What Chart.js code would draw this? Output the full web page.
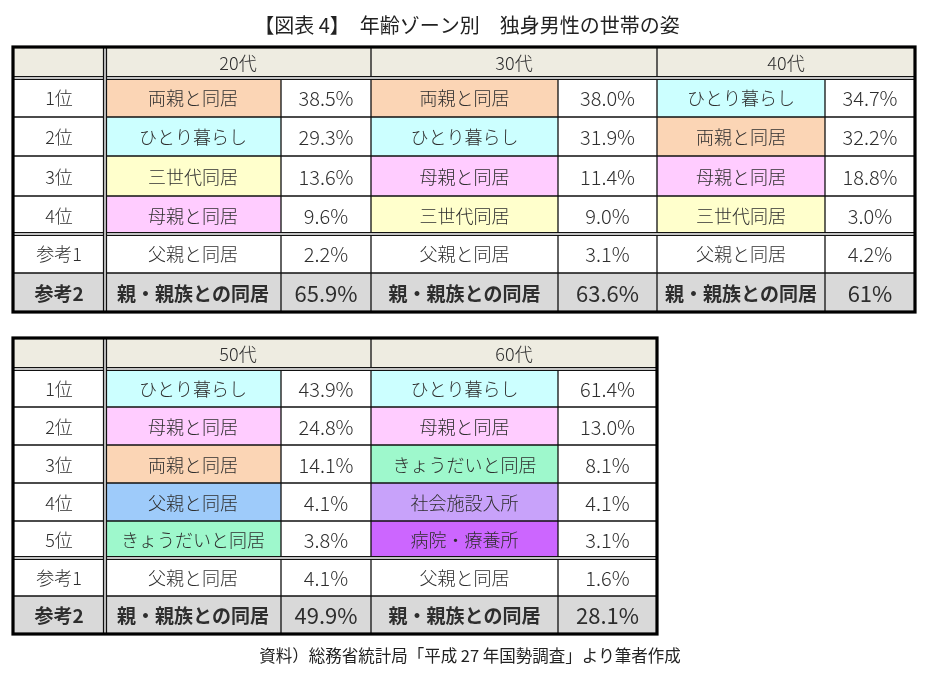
<!DOCTYPE html>
<html>
<head>
<meta charset="utf-8">
<script src="https://cdn.jsdelivr.net/npm/chart.js@4/dist/chart.umd.min.js"></script>
<style>
body{margin:0;background:#fff}
#wrap{width:928px;height:673px}
</style>
</head>
<body>
<div id="wrap"><canvas id="myChart" width="928" height="673"></canvas></div>
<script>
const TITLE = '【図表 4】　年齢ゾーン別　独身男性の世帯の姿'
const SOURCE = '資料）総務省統計局「平成 27 年国勢調査」より筆者作成'

// table 1 : 20s - 40s
const ages1 = ['20代', '30代', '40代']
const ranks1 = ['1位', '2位', '3位', '4位', '参考1', '参考2']
const items20 = ['両親と同居', 'ひとり暮らし', '三世代同居', '母親と同居', '父親と同居', '親・親族との同居']
const pct20 = ['38.5', '29.3', '13.6', '9.6', '2.2', '65.9']
const items30 = ['両親と同居', 'ひとり暮らし', '母親と同居', '三世代同居', '父親と同居', '親・親族との同居']
const pct30 = ['38.0', '31.9', '11.4', '9.0', '3.1', '63.6']
const items40 = ['ひとり暮らし', '両親と同居', '母親と同居', '三世代同居', '父親と同居', '親・親族との同居']
const pct40 = ['34.7', '32.2', '18.8', '3.0', '4.2', '61']

// table 2 : 50s - 60s
const ages2 = ['50代', '60代']
const ranks2 = ['1位', '2位', '3位', '4位', '5位', '参考1', '参考2']
const items50 = ['ひとり暮らし', '母親と同居', '両親と同居', '父親と同居', 'きょうだいと同居', '父親と同居', '親・親族との同居']
const pct50 = ['43.9', '24.8', '14.1', '4.1', '3.8', '4.1', '49.9']
const items60 = ['ひとり暮らし', '母親と同居', 'きょうだいと同居', '社会施設入所', '病院・療養所', '父親と同居', '親・親族との同居']
const pct60 = ['61.4', '13.0', '8.1', '4.1', '3.1', '1.6', '28.1']

// styles
const itemColors = {
  '両親と同居': '#fbd5b5',
  'ひとり暮らし': '#ccffff',
  '三世代同居': '#ffffcc',
  '母親と同居': '#ffccff',
  '父親と同居': '#9ecbfa',
  'きょうだいと同居': '#9ef8cc',
  '社会施設入所': '#c8a2fa',
  '病院・療養所': '#cc66ff'
}
const HEAD_BG = '#eeece1'
const REF2_BG = '#d9d9d9'
const TEXT_COLOR = '#2e2e2e'
const FONT = '"Noto Sans CJK JP", "Noto Sans", sans-serif'

// layout (grid edges in scale units)
const layout1 = {cols: [13, 105, 281, 371, 558, 657, 825, 915], rows: [47, 78, 117, 156, 196, 234, 273, 312]}
const layout2 = {cols: [13, 105, 281, 371, 558, 657], rows: [338, 369, 407, 445, 483, 521, 558, 596, 634]}

const table1 = {ages: ages1, ranks: ranks1, items: [items20, items30, items40], pcts: [pct20, pct30, pct40], ranked: 4, lay: layout1}
const table2 = {ages: ages2, ranks: ranks2, items: [items50, items60], pcts: [pct50, pct60], ranked: 5, lay: layout2}


function drawTable(chart, t){
  var ctx = chart.ctx
  var sx = chart.scales.x, sy = chart.scales.y
  var X = t.lay.cols.map(function(v){return sx.getPixelForValue(v)})
  var Y = t.lay.rows.map(function(v){return sy.getPixelForValue(v)})
  var nRows = t.ranks.length
  var nGroups = t.ages.length
  var left = X[0], right = X[X.length - 1], top = Y[0], bottom = Y[Y.length - 1]

  // backgrounds
  ctx.fillStyle = HEAD_BG
  ctx.fillRect(left, top, right - left, Y[1] - top)
  for(var i = 0;i < nRows;i++){
    var y0 = Y[i + 1], y1 = Y[i + 2]
    var isRef2 = i === t.ranked + 1
    ctx.fillStyle = isRef2 ? REF2_BG : '#fff'
    ctx.fillRect(left, y0, right - left, y1 - y0)
    if(i < t.ranked){
      for(var g = 0;g < nGroups;g++){
        ctx.fillStyle = itemColors[t.items[g][i]] || '#fff'
        ctx.fillRect(X[1 + 2 * g], y0, X[2 + 2 * g] - X[1 + 2 * g], y1 - y0)
      }
    }
  }

  // thin grid
  ctx.strokeStyle = '#111'
  ctx.lineWidth = 1.3
  ctx.beginPath()
  for(var k = 1;k < Y.length - 1;k++){
    ctx.moveTo(left, Y[k]); ctx.lineTo(right, Y[k])
  }
  for(var g = 0;g < nGroups;g++){
    ctx.moveTo(X[1 + 2 * g], top); ctx.lineTo(X[1 + 2 * g], bottom)
    ctx.moveTo(X[2 + 2 * g], Y[1]); ctx.lineTo(X[2 + 2 * g], bottom)
  }
  ctx.stroke()

  // double lines
  function dbl(x0, y0, x1, y1){
    ctx.strokeStyle = '#111'
    ctx.lineWidth = 4.2
    ctx.beginPath(); ctx.moveTo(x0, y0); ctx.lineTo(x1, y1); ctx.stroke()
    ctx.strokeStyle = '#fff'
    ctx.lineWidth = 1.4
    ctx.beginPath(); ctx.moveTo(x0, y0); ctx.lineTo(x1, y1); ctx.stroke()
  }
  dbl(left, Y[1], right, Y[1])
  dbl(left, Y[t.ranked + 1], right, Y[t.ranked + 1])
  dbl(X[1], top, X[1], bottom)

  // outer border
  ctx.strokeStyle = '#000'
  ctx.lineWidth = 3.2
  ctx.strokeRect(left, top, right - left, bottom - top)

  // texts
  ctx.fillStyle = TEXT_COLOR
  ctx.textAlign = 'center'
  ctx.textBaseline = 'middle'
  ctx.font = '300 18px ' + FONT
  for(var g = 0;g < nGroups;g++){
    ctx.fillText(t.ages[g], (X[1 + 2 * g] + X[3 + 2 * g]) / 2, (Y[0] + Y[1]) / 2 + 1)
  }
  for(var i = 0;i < nRows;i++){
    var cy = (Y[i + 1] + Y[i + 2]) / 2 + 1
    var isRef2 = i === t.ranked + 1
    ctx.font = (isRef2 ? 'bold 19px ' : '300 18px ') + FONT
    ctx.fillText(t.ranks[i], (X[0] + X[1]) / 2, cy)
    for(var g = 0;g < nGroups;g++){
      ctx.font = (isRef2 ? 'bold 19px ' : '300 18px ') + FONT
      ctx.fillText(t.items[g][i], (X[1 + 2 * g] + X[2 + 2 * g]) / 2, cy)
      ctx.font = (isRef2 ? '22px ' : '300 20px ') + FONT
      ctx.fillText(t.pcts[g][i] + '%', (X[2 + 2 * g] + X[3 + 2 * g]) / 2, cy)
    }
  }
}


const tablePlugin = {
  id: 'tablePlugin',
  beforeDraw: function(chart){
    var ctx = chart.ctx
    ctx.save()
    ctx.fillStyle = '#fff'
    ctx.fillRect(0, 0, chart.width, chart.height)
    ctx.restore()
  },
  afterDraw: function(chart){
    var ctx = chart.ctx
    var sx = chart.scales.x, sy = chart.scales.y
    ctx.save()
    drawTable(chart, table1)
    drawTable(chart, table2)
    ctx.fillStyle = '#222'
    ctx.textAlign = 'center'
    ctx.textBaseline = 'middle'
    ctx.font = '20px ' + FONT
    ctx.fillText(TITLE, sx.getPixelForValue(467), sy.getPixelForValue(25))
    ctx.font = '16.5px ' + FONT
    ctx.fillText(SOURCE, sx.getPixelForValue(470), sy.getPixelForValue(656))
    ctx.restore()
  }
}

var ctx = document.getElementById('myChart').getContext('2d')
var myChart = new Chart(ctx, {
  type: 'scatter',
  data: {datasets: [{data: []}]},
  options: {
    responsive: false,
    animation: false,
    devicePixelRatio: 1,
    layout: {padding: 0},
    plugins: {legend: {display: false}, tooltip: {enabled: false}},
    scales: {
      x: {type: 'linear', min: 0, max: 928, display: false},
      y: {type: 'linear', min: 0, max: 673, reverse: true, display: false}
    }
  },
  plugins: [tablePlugin]
})
</script>
</body>
</html>
